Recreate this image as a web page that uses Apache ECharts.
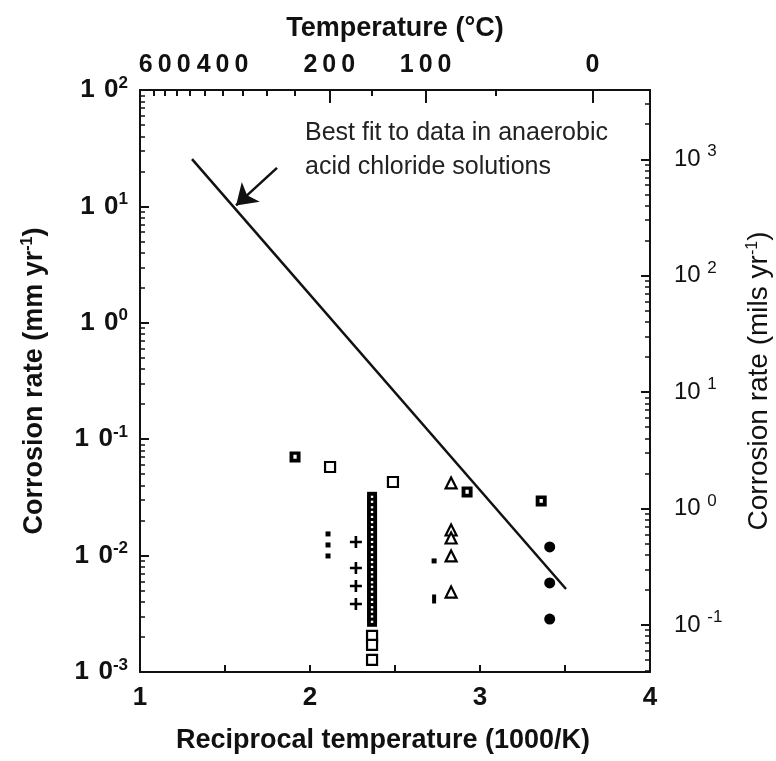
<!DOCTYPE html>
<html><head><meta charset="utf-8">
<script src="https://cdn.jsdelivr.net/npm/echarts@6/dist/echarts.min.js"></script>
<style>html,body{margin:0;padding:0;background:#fff}#c{width:776px;height:761px}</style>
</head><body><div id="c"></div>
<script>
// ---- data (x = 1000/K, y = corrosion rate in mm/yr) ----
const fitLine = [[1.306, 25.5], [3.506, 0.00516]];
const arrowFrom = [1.806, 21.4];
const arrowTo = [1.565, 10.2];
const dotSquares = [[1.912, 0.0703], [2.924, 0.0352], [3.36, 0.0294]];
const openSquares = [[2.118, 0.0577], [2.488, 0.0429], [2.365, 0.00204], [2.365, 0.00171], [2.365, 0.00127], [2.365, 0.00098]];
const stackX = 2.365;
const stackValues = [0.032, 0.029, 0.026, 0.0237, 0.0215, 0.0194, 0.0176, 0.0159, 0.0145, 0.0131, 0.0119, 0.0107, 0.0097, 0.0088, 0.0080, 0.0072, 0.0066, 0.0059, 0.0054, 0.0049, 0.0044, 0.0040, 0.0036, 0.0033, 0.0030, 0.0027];
const smallSquares = [[2.106, 0.01535], [2.106, 0.01234], [2.106, 0.00993], [2.73, 0.0090]];
const smallBars = [[2.73, 0.00424]];
const plusPoints = [[2.27, 0.01309], [2.27, 0.00782], [2.27, 0.00548], [2.27, 0.00384]];
const triangles = [[2.83, 0.0421], [2.83, 0.0166], [2.83, 0.01416], [2.83, 0.00993], [2.83, 0.00486]];
const circles = [[3.41, 0.01186], [3.41, 0.00582], [3.41, 0.00285]];

// ---- axes / tick labels ----
const bottomLabels = [1, 2, 3, 4];
const topLabelTempsC = [600, 400, 200, 100, 0];
const topTickTempsC = [650, 600, 550, 500, 450, 400, 350, 300, 250, 200, 150, 100, 50, 0];
const topLongTickTempsC = [200, 100, 0];
const leftMajor = [0.001, 0.01, 0.1, 1, 10, 100];
const rightMajor = [0.1, 1, 10, 100, 1000];
const MILS_PER_MM = 39.37;
const annotation = ['Best fit to data in anaerobic', 'acid chloride solutions'];

const FONT = 'Liberation Sans, Arial, Helvetica, sans-serif';
const INK = '#111';
const toRecip = t => 1000 / (t + 273.15);
function minorsBetween(lo, hi) {
  const out = [];
  for (let d = lo; d < hi * 0.999; d *= 10) {
    for (let m = 2; m <= 9; m++) { const v = d * m; if (v > lo && v < hi) out.push(v); }
  }
  return out;
}
const leftMin = 0.001, leftMax = 100;
const rightMin = leftMin * MILS_PER_MM, rightMax = leftMax * MILS_PER_MM;
const leftMinor = minorsBetween(0.001, 100);
const rightMinor = minorsBetween(0.01, 10000).filter(v => v > rightMin && v < rightMax);

const supLabel = (bold, size, ssize, pad) => ({
  b: {fontSize: size, fontWeight: bold ? 'bold' : 'normal', fontFamily: FONT, color: INK},
  s: {fontSize: ssize, fontWeight: bold ? 'bold' : 'normal', fontFamily: FONT, color: INK, padding: [0, 0, pad, 0]}
});
const expOf = v => Math.round(Math.log10(v));

const holeSquare = 'path://M0,0H10V10H0Z M3.5,3V6.5H6.5V3Z';
const plusPath = 'path://M3.9,0H6.1V3.9H10V6.1H6.1V10H3.9V6.1H0V3.9H3.9Z';

const chart = echarts.init(document.getElementById('c'), null, {renderer: 'canvas'});
const axisLineStyle = {color: INK, width: 2};
const solid = {color: '#000', opacity: 1};
const stackPoints = stackValues.map(v => [stackX, v]);
const option = {
  animation: false,
  backgroundColor: '#fff',
  grid: {left: 140, right: 126, top: 90, bottom: 89, containLabel: false, outerBoundsMode: 'none'},
  graphic: [{
    type: 'text', left: 305, top: 116,
    style: {text: annotation.join('\n'), font: '25px ' + FONT, lineHeight: 34, fill: '#222'}
  }],
  xAxis: [
    {
      type: 'value', position: 'bottom', min: 1, max: 4, interval: 0.5,
      axisLine: {show: true, onZero: false, lineStyle: axisLineStyle},
      axisTick: {show: true, inside: true, length: 7, lineStyle: {color: INK, width: 2}},
      axisLabel: {customValues: bottomLabels, fontSize: 26, fontWeight: 'bold', color: INK, fontFamily: FONT, margin: 13},
      splitLine: {show: false},
      name: 'Reciprocal temperature (1000/K)', nameLocation: 'middle', nameGap: 55,
      nameTextStyle: {fontSize: 27, fontWeight: 'bold', color: INK, fontFamily: FONT, padding: [0, 24, 0, 0]}
    },
    {
      type: 'value', position: 'top', min: 1, max: 4,
      axisLine: {show: true, onZero: false, lineStyle: axisLineStyle},
      axisTick: {show: true, inside: true, length: 6, customValues: topTickTempsC.map(toRecip), lineStyle: {color: INK, width: 2}},
      axisLabel: {
        customValues: topLabelTempsC.map(toRecip), margin: 12,
        formatter: v => String(Math.round(1000 / v - 273.15)).split('').join('\u2009'),
        fontSize: 25, fontWeight: 'bold', color: INK, fontFamily: FONT
      },
      splitLine: {show: false},
      name: 'Temperature (°C)', nameLocation: 'middle', nameGap: 48,
      nameTextStyle: {fontSize: 27, fontWeight: 'bold', color: INK, fontFamily: FONT}
    },
    {
      type: 'value', position: 'top', min: 1, max: 4,
      axisLine: {show: false},
      axisTick: {show: true, inside: true, length: 13, customValues: topLongTickTempsC.map(toRecip), lineStyle: {color: INK, width: 2}},
      axisLabel: {show: false}, splitLine: {show: false}
    }
  ],
  yAxis: [
    {
      type: 'log', logBase: 10, position: 'left', min: leftMin, max: leftMax,
      axisLine: {show: true, onZero: false, lineStyle: axisLineStyle},
      axisTick: {show: true, inside: true, length: 9, customValues: leftMajor, lineStyle: {color: INK, width: 2}},
      axisLabel: {
        customValues: leftMajor, margin: 12,
        formatter: v => '{b|1 \u200a0}{s|' + expOf(v) + '}',
        rich: supLabel(true, 26, 17, 14)
      },
      splitLine: {show: false},
      name: '{t|Corrosion rate (mm yr}{u|-1}{t|)}', nameLocation: 'middle', nameGap: 91,
      nameTextStyle: {rich: {
        t: {fontSize: 27, fontWeight: 'bold', color: INK, fontFamily: FONT},
        u: {fontSize: 16, fontWeight: 'bold', color: INK, fontFamily: FONT, padding: [0, 0, 13, 0]}
      }}
    },
    {
      type: 'log', logBase: 10, position: 'left', min: leftMin, max: leftMax,
      axisLine: {show: false},
      axisTick: {show: true, inside: true, length: 5, customValues: leftMinor, lineStyle: {color: INK, width: 1.5}},
      axisLabel: {show: false}, splitLine: {show: false}
    },
    {
      type: 'log', logBase: 10, position: 'right', min: rightMin, max: rightMax,
      axisLine: {show: true, onZero: false, lineStyle: axisLineStyle},
      axisTick: {show: true, inside: true, length: 9, customValues: rightMajor, lineStyle: {color: INK, width: 2}},
      axisLabel: {
        customValues: rightMajor, margin: 24,
        formatter: v => '{b|10 }{s|' + expOf(v) + '}',
        rich: supLabel(false, 24, 17, 15)
      },
      splitLine: {show: false},
      name: '{t|Corrosion rate (mils yr}{u|-1}{t|)}', nameLocation: 'middle', nameGap: 95,
      nameTextStyle: {rich: {
        t: {fontSize: 28, color: INK, fontFamily: FONT},
        u: {fontSize: 16, color: INK, fontFamily: FONT, padding: [0, 0, 13, 0]}
      }}
    },
    {
      type: 'log', logBase: 10, position: 'right', min: rightMin, max: rightMax,
      axisLine: {show: false},
      axisTick: {show: true, inside: true, length: 5, customValues: rightMinor, lineStyle: {color: INK, width: 1.5}},
      axisLabel: {show: false}, splitLine: {show: false}
    }
  ],
  series: [
    {
      type: 'line', xAxisIndex: 0, yAxisIndex: 0, data: fitLine, symbol: 'none',
      lineStyle: {color: INK, width: 2.5}, silent: true,
      markLine: {
        silent: true, symbol: ['none', 'arrow'], symbolSize: 20,
        lineStyle: {color: INK, width: 2.5, type: 'solid', opacity: 1}, label: {show: false},
        data: [[{coord: arrowFrom}, {coord: arrowTo}]]
      }
    },
    {
      type: 'scatter', xAxisIndex: 0, yAxisIndex: 0, data: stackPoints,
      symbol: 'rect', symbolSize: 10, itemStyle: solid
    },
    {
      type: 'scatter', xAxisIndex: 0, yAxisIndex: 0, data: stackPoints,
      symbol: 'rect', symbolSize: [2.4, 2.2], itemStyle: {color: '#fff', opacity: 1}, silent: true
    },
    {
      type: 'scatter', xAxisIndex: 0, yAxisIndex: 0, data: openSquares,
      symbol: 'rect', symbolSize: 10, itemStyle: {color: '#fff', borderColor: '#000', borderWidth: 2.2, opacity: 1}
    },
    {
      type: 'scatter', xAxisIndex: 0, yAxisIndex: 0, data: dotSquares,
      symbol: holeSquare, symbolSize: 11, itemStyle: solid
    },
    {
      type: 'scatter', xAxisIndex: 0, yAxisIndex: 0, data: smallSquares,
      symbol: 'rect', symbolSize: 5, itemStyle: solid
    },
    {
      type: 'scatter', xAxisIndex: 0, yAxisIndex: 0, data: smallBars,
      symbol: 'rect', symbolSize: [4, 9], itemStyle: solid
    },
    {
      type: 'scatter', xAxisIndex: 0, yAxisIndex: 0, data: plusPoints,
      symbol: plusPath, symbolSize: 12, itemStyle: solid
    },
    {
      type: 'scatter', xAxisIndex: 0, yAxisIndex: 0, data: triangles,
      symbol: 'triangle', symbolSize: 11, itemStyle: {color: '#fff', borderColor: '#000', borderWidth: 2.2, opacity: 1}
    },
    {
      type: 'scatter', xAxisIndex: 0, yAxisIndex: 0, data: circles,
      symbol: 'circle', symbolSize: 11, itemStyle: solid
    }
  ]
};
chart.setOption(option);
</script>
</body></html>
